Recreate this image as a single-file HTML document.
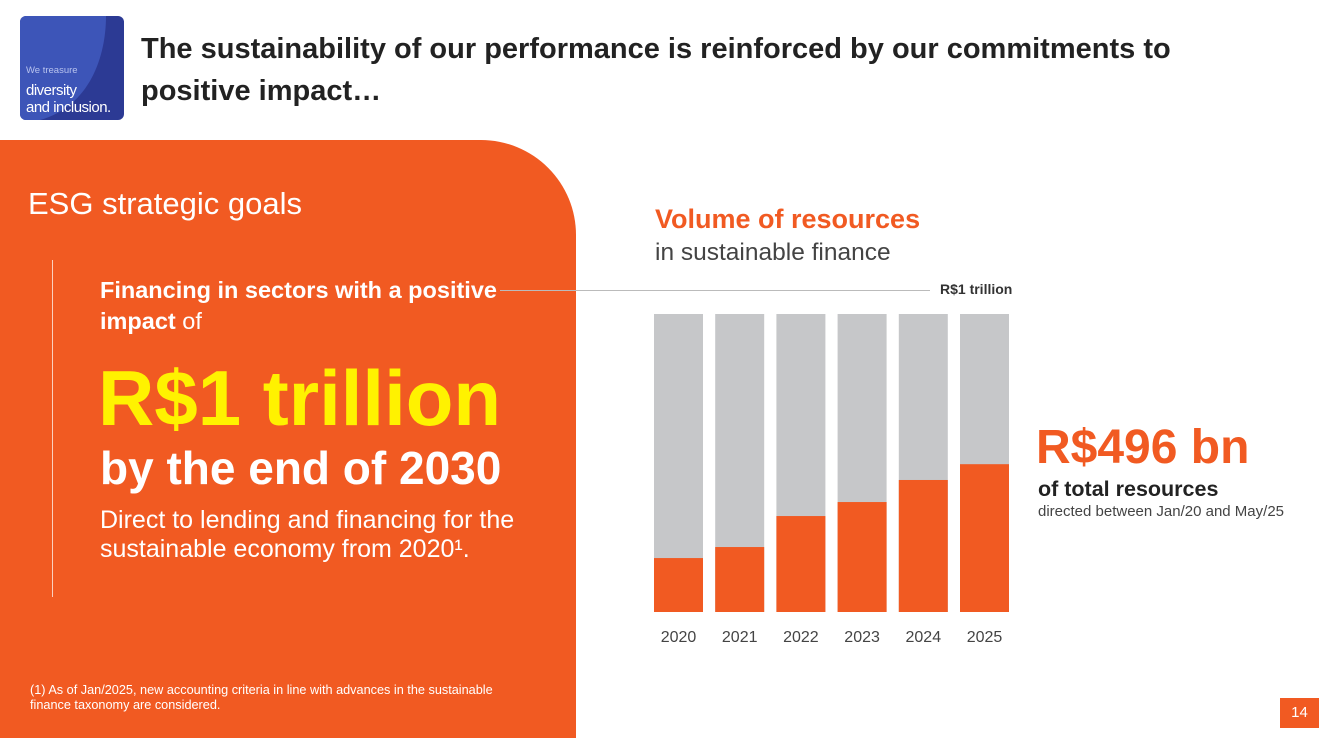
<!DOCTYPE html>
<html><head><meta charset="utf-8"><style>
body{margin:0;width:1319px;height:738px;position:relative;overflow:hidden;background:#fff;font-family:"Liberation Sans",sans-serif}
.a{position:absolute;white-space:nowrap}
</style></head><body>
<div class="a" style="left:20px;top:16px;width:104px;height:104px;border-radius:6px;background:#2c3a94;overflow:hidden">
<svg width="104" height="104" style="position:absolute;left:0;top:0"><path d="M0 0 H86 C86 40 70 90 20 104 H0 Z" fill="#3d55b8"/></svg>
<div class="a" style="left:6px;top:49px;font-size:9.5px;color:#b8c3ee">We treasure</div>
<div class="a" style="left:6px;top:66px;font-size:15px;color:#fff;line-height:17px;letter-spacing:-0.5px">diversity<br>and inclusion.</div>
</div>
<div class="a" style="left:141px;top:28px;font-size:29px;font-weight:bold;color:#222;line-height:42px">The sustainability of our performance is reinforced by our commitments to<br>positive impact…</div>
<div class="a" style="left:0;top:140px;width:576px;height:598px;background:#f15a22;border-top-right-radius:95px"></div>
<div class="a" style="left:28px;top:186px;font-size:31px;color:#fff">ESG strategic goals</div>
<div class="a" style="left:52px;top:260px;width:1px;height:337px;background:#fbd0bf"></div>
<div class="a" style="left:100px;top:275px;font-size:23.5px;font-weight:bold;color:#fff;line-height:31px">Financing in sectors with a positive<br>impact <span style="font-weight:normal">of</span></div>
<div class="a" style="left:98px;top:353px;font-size:78px;font-weight:bold;color:#fff200;line-height:90px">R$1 trillion</div>
<div class="a" style="left:100px;top:440px;font-size:46px;font-weight:bold;color:#fff;line-height:56px">by the end of 2030</div>
<div class="a" style="left:100px;top:506px;font-size:25px;color:#fff;line-height:29px">Direct to lending and financing for the<br>sustainable economy from 2020¹.</div>
<div class="a" style="left:30px;top:683px;font-size:12.7px;color:#fff;line-height:15px">(1) As of Jan/2025, new accounting criteria in line with advances in the sustainable<br>finance taxonomy are considered.</div>
<div class="a" style="left:655px;top:204px;font-size:27px;font-weight:bold;color:#f15a22">Volume of resources</div>
<div class="a" style="left:655px;top:239px;font-size:24.5px;color:#444">in sustainable finance</div>
<div class="a" style="left:500px;top:290px;width:430px;height:1px;background:#bbb"></div>
<div class="a" style="left:940px;top:281px;font-size:14px;font-weight:bold;color:#333">R$1 trillion</div>
<svg id="chart" class="a" style="left:0;top:0" width="1319" height="738"></svg>
<div class="a" style="left:1036px;top:420px;font-size:48px;font-weight:bold;color:#f15a22">R$496 bn</div>
<div class="a" style="left:1038px;top:477px;font-size:21.5px;font-weight:bold;color:#222">of total resources</div>
<div class="a" style="left:1038px;top:503px;font-size:15px;color:#444">directed between Jan/20 and May/25</div>
<div class="a" style="left:1280px;top:698px;width:39px;height:30px;background:#f15a22;color:#fff;font-size:15px;line-height:30px;text-align:center">14</div>
<script>
const years=["2020","2021","2022","2023","2024","2025"];
const volumes=[181,218,322,369,443,496];
const targetTotal=1000;
const svg=document.getElementById('chart');
const NS='http://www.w3.org/2000/svg';
const top0=314,bottom0=612,x0=654,step=61.2,bw=49;
function y(v){return bottom0-(v/targetTotal)*(bottom0-top0);}
function x(i){return x0+i*step;}
years.forEach((yr,i)=>{
 const g=document.createElementNS(NS,'rect');
 g.setAttribute('x',x(i));g.setAttribute('y',y(targetTotal));g.setAttribute('width',bw);g.setAttribute('height',y(0)-y(targetTotal));g.setAttribute('fill','#c6c7c9');
 
 
 svg.appendChild(g);
 const r=document.createElementNS(NS,'rect');
 r.setAttribute('x',x(i));r.setAttribute('y',y(volumes[i]));r.setAttribute('width',bw);r.setAttribute('height',y(0)-y(volumes[i]));r.setAttribute('fill','#f15a22');
 
 
 svg.appendChild(r);
 const t=document.createElementNS(NS,'text');
 t.setAttribute('x',x(i)+bw/2);t.setAttribute('y',642);t.setAttribute('text-anchor','middle');t.setAttribute('font-size','16');t.setAttribute('fill','#444');t.setAttribute('font-family','Liberation Sans, sans-serif');
 t.textContent=yr;
 
 
 svg.appendChild(t);
});
</script>
</body></html>
